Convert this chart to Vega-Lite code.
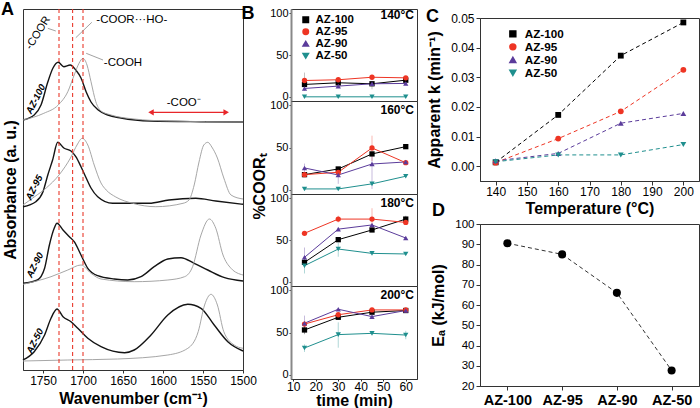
{
  "$schema": "https://vega.github.io/schema/vega-lite/v6.json",
  "background": "white",
  "padding": {"left": 0, "top": 0, "right": 0, "bottom": 0},
  "config": {
    "font": "Liberation Sans",
    "view": {"stroke": "#333333", "strokeWidth": 1},
    "axis": {"grid": false, "labelColor": "#000", "titleColor": "#000", "domainColor": "#333", "tickColor": "#333", "labelFontSize": 12, "titleFontSize": 16, "titleFontWeight": "bold", "labelFlush": false},
    "legend": {"labelFontWeight": "bold", "labelColor": "#000"},
    "title": {"fontWeight": "bold", "color": "#000"}
  },
  "datasets": {
    "spectra": [
      {"s":"AZ-100","trace":"sample","wn":1775,"a":250},{"s":"AZ-100","trace":"sample","wn":1761,"a":255},{"s":"AZ-100","trace":"sample","wn":1752.5,"a":265},{"s":"AZ-100","trace":"sample","wn":1744,"a":288},{"s":"AZ-100","trace":"sample","wn":1737.5,"a":302},{"s":"AZ-100","trace":"sample","wn":1731,"a":307.7},{"s":"AZ-100","trace":"sample","wn":1724,"a":303.3},{"s":"AZ-100","trace":"sample","wn":1716,"a":305},{"s":"AZ-100","trace":"sample","wn":1709,"a":300},{"s":"AZ-100","trace":"sample","wn":1702.5,"a":292},{"s":"AZ-100","trace":"sample","wn":1696,"a":278},{"s":"AZ-100","trace":"sample","wn":1690,"a":268},{"s":"AZ-100","trace":"sample","wn":1681,"a":260},{"s":"AZ-100","trace":"sample","wn":1669,"a":255},{"s":"AZ-100","trace":"sample","wn":1652.5,"a":252},{"s":"AZ-100","trace":"sample","wn":1615,"a":249},{"s":"AZ-100","trace":"sample","wn":1552.5,"a":248.3},{"s":"AZ-100","trace":"sample","wn":1500,"a":248},
      {"s":"AZ-100","trace":"reference","wn":1775,"a":250},{"s":"AZ-100","trace":"reference","wn":1749,"a":256.7},{"s":"AZ-100","trace":"reference","wn":1731,"a":265},{"s":"AZ-100","trace":"reference","wn":1719,"a":278.3},{"s":"AZ-100","trace":"reference","wn":1711,"a":295},{"s":"AZ-100","trace":"reference","wn":1705,"a":306.7},{"s":"AZ-100","trace":"reference","wn":1700,"a":311.7},{"s":"AZ-100","trace":"reference","wn":1695,"a":305},{"s":"AZ-100","trace":"reference","wn":1690,"a":288.3},{"s":"AZ-100","trace":"reference","wn":1684,"a":268.3},{"s":"AZ-100","trace":"reference","wn":1677.5,"a":259},{"s":"AZ-100","trace":"reference","wn":1665,"a":255},{"s":"AZ-100","trace":"reference","wn":1636,"a":251},{"s":"AZ-100","trace":"reference","wn":1594,"a":249},{"s":"AZ-100","trace":"reference","wn":1500,"a":248},
      {"s":"AZ-95","trace":"sample","wn":1775,"a":163.3},{"s":"AZ-95","trace":"sample","wn":1759,"a":168.3},{"s":"AZ-95","trace":"sample","wn":1750,"a":178.3},{"s":"AZ-95","trace":"sample","wn":1744,"a":195},{"s":"AZ-95","trace":"sample","wn":1738,"a":210},{"s":"AZ-95","trace":"sample","wn":1731.6,"a":227.7},{"s":"AZ-95","trace":"sample","wn":1724,"a":222},{"s":"AZ-95","trace":"sample","wn":1715,"a":219},{"s":"AZ-95","trace":"sample","wn":1709,"a":213.3},{"s":"AZ-95","trace":"sample","wn":1702.5,"a":203.3},{"s":"AZ-95","trace":"sample","wn":1696,"a":192},{"s":"AZ-95","trace":"sample","wn":1690,"a":182},{"s":"AZ-95","trace":"sample","wn":1681.6,"a":173.3},{"s":"AZ-95","trace":"sample","wn":1663,"a":166.7},{"s":"AZ-95","trace":"sample","wn":1617.5,"a":166.7},{"s":"AZ-95","trace":"sample","wn":1592.5,"a":170},{"s":"AZ-95","trace":"sample","wn":1559,"a":171.7},{"s":"AZ-95","trace":"sample","wn":1534,"a":169},{"s":"AZ-95","trace":"sample","wn":1500,"a":165.7},
      {"s":"AZ-95","trace":"reference","wn":1775,"a":165},{"s":"AZ-95","trace":"reference","wn":1761,"a":173},{"s":"AZ-95","trace":"reference","wn":1746,"a":182},{"s":"AZ-95","trace":"reference","wn":1730,"a":195},{"s":"AZ-95","trace":"reference","wn":1715,"a":213},{"s":"AZ-95","trace":"reference","wn":1707.5,"a":225},{"s":"AZ-95","trace":"reference","wn":1701,"a":231.7},{"s":"AZ-95","trace":"reference","wn":1694,"a":225},{"s":"AZ-95","trace":"reference","wn":1686,"a":205},{"s":"AZ-95","trace":"reference","wn":1677.5,"a":187},{"s":"AZ-95","trace":"reference","wn":1671,"a":180},{"s":"AZ-95","trace":"reference","wn":1659,"a":173},{"s":"AZ-95","trace":"reference","wn":1638,"a":166.7},{"s":"AZ-95","trace":"reference","wn":1609,"a":163.3},{"s":"AZ-95","trace":"reference","wn":1575,"a":166.7},{"s":"AZ-95","trace":"reference","wn":1567.5,"a":170},{"s":"AZ-95","trace":"reference","wn":1561,"a":185},{"s":"AZ-95","trace":"reference","wn":1555,"a":208},{"s":"AZ-95","trace":"reference","wn":1549,"a":225},{"s":"AZ-95","trace":"reference","wn":1544,"a":227.7},{"s":"AZ-95","trace":"reference","wn":1539,"a":223},{"s":"AZ-95","trace":"reference","wn":1532,"a":212},{"s":"AZ-95","trace":"reference","wn":1524,"a":192},{"s":"AZ-95","trace":"reference","wn":1515,"a":175},{"s":"AZ-95","trace":"reference","wn":1500,"a":171},
      {"s":"AZ-90","trace":"sample","wn":1775,"a":86.7},{"s":"AZ-90","trace":"sample","wn":1757,"a":90},{"s":"AZ-90","trace":"sample","wn":1748,"a":101.7},{"s":"AZ-90","trace":"sample","wn":1742,"a":125},{"s":"AZ-90","trace":"sample","wn":1736,"a":141.7},{"s":"AZ-90","trace":"sample","wn":1732.5,"a":146.7},{"s":"AZ-90","trace":"sample","wn":1725,"a":140},{"s":"AZ-90","trace":"sample","wn":1717,"a":133.3},{"s":"AZ-90","trace":"sample","wn":1711,"a":128.3},{"s":"AZ-90","trace":"sample","wn":1702.5,"a":115},{"s":"AZ-90","trace":"sample","wn":1694,"a":101.7},{"s":"AZ-90","trace":"sample","wn":1681.6,"a":94.3},{"s":"AZ-90","trace":"sample","wn":1661,"a":91},{"s":"AZ-90","trace":"sample","wn":1644,"a":90},{"s":"AZ-90","trace":"sample","wn":1627.5,"a":93.3},{"s":"AZ-90","trace":"sample","wn":1611,"a":103.3},{"s":"AZ-90","trace":"sample","wn":1594,"a":111},{"s":"AZ-90","trace":"sample","wn":1577.5,"a":112.3},{"s":"AZ-90","trace":"sample","wn":1561,"a":106.7},{"s":"AZ-90","trace":"sample","wn":1544,"a":100},{"s":"AZ-90","trace":"sample","wn":1523,"a":92.3},{"s":"AZ-90","trace":"sample","wn":1500,"a":89},
      {"s":"AZ-90","trace":"reference","wn":1775,"a":85.7},{"s":"AZ-90","trace":"reference","wn":1740,"a":93.3},{"s":"AZ-90","trace":"reference","wn":1719,"a":100},{"s":"AZ-90","trace":"reference","wn":1702.5,"a":105},{"s":"AZ-90","trace":"reference","wn":1690,"a":96.7},{"s":"AZ-90","trace":"reference","wn":1677.5,"a":91},{"s":"AZ-90","trace":"reference","wn":1636,"a":88.3},{"s":"AZ-90","trace":"reference","wn":1594,"a":90},{"s":"AZ-90","trace":"reference","wn":1573,"a":93.3},{"s":"AZ-90","trace":"reference","wn":1563,"a":103.3},{"s":"AZ-90","trace":"reference","wn":1552.5,"a":135},{"s":"AZ-90","trace":"reference","wn":1542,"a":151},{"s":"AZ-90","trace":"reference","wn":1534,"a":141.7},{"s":"AZ-90","trace":"reference","wn":1525,"a":115},{"s":"AZ-90","trace":"reference","wn":1515,"a":101.7},{"s":"AZ-90","trace":"reference","wn":1500,"a":95},
      {"s":"AZ-50","trace":"sample","wn":1775,"a":10},{"s":"AZ-50","trace":"sample","wn":1761,"a":18.3},{"s":"AZ-50","trace":"sample","wn":1748,"a":35},{"s":"AZ-50","trace":"sample","wn":1740,"a":51.7},{"s":"AZ-50","trace":"sample","wn":1732.5,"a":61},{"s":"AZ-50","trace":"sample","wn":1725,"a":53.3},{"s":"AZ-50","trace":"sample","wn":1715,"a":48.3},{"s":"AZ-50","trace":"sample","wn":1706.5,"a":41.7},{"s":"AZ-50","trace":"sample","wn":1694,"a":31.7},{"s":"AZ-50","trace":"sample","wn":1677.5,"a":23.3},{"s":"AZ-50","trace":"sample","wn":1648,"a":17.3},{"s":"AZ-50","trace":"sample","wn":1636,"a":20},{"s":"AZ-50","trace":"sample","wn":1615,"a":35},{"s":"AZ-50","trace":"sample","wn":1594,"a":55},{"s":"AZ-50","trace":"sample","wn":1569,"a":65.7},{"s":"AZ-50","trace":"sample","wn":1552.5,"a":61.7},{"s":"AZ-50","trace":"sample","wn":1536,"a":45},{"s":"AZ-50","trace":"sample","wn":1519,"a":28.3},{"s":"AZ-50","trace":"sample","wn":1500,"a":19},
      {"s":"AZ-50","trace":"reference","wn":1775,"a":9},{"s":"AZ-50","trace":"reference","wn":1719,"a":10},{"s":"AZ-50","trace":"reference","wn":1657,"a":11},{"s":"AZ-50","trace":"reference","wn":1594,"a":15},{"s":"AZ-50","trace":"reference","wn":1569,"a":21.7},{"s":"AZ-50","trace":"reference","wn":1556,"a":38.3},{"s":"AZ-50","trace":"reference","wn":1548,"a":65},{"s":"AZ-50","trace":"reference","wn":1540,"a":75.7},{"s":"AZ-50","trace":"reference","wn":1532,"a":65},{"s":"AZ-50","trace":"reference","wn":1524,"a":38.3},{"s":"AZ-50","trace":"reference","wn":1511,"a":25},{"s":"AZ-50","trace":"reference","wn":1500,"a":21.7}
    ],
    "bands": [{"wn": 1730}, {"wn": 1713}, {"wn": 1700}],
    "leaders": [
      {"wn": 1744, "a": 341.7, "wn2": 1734, "a2": 339},
      {"wn": 1709, "a": 332.3, "wn2": 1689, "a2": 347.7},
      {"wn": 1696, "a": 316.7, "wn2": 1675, "a2": 310}
    ],
    "arrow": [{"wn": 1615, "wn2": 1521, "a": 257.7}],
    "arrowHeads": [{"wn": 1615, "a": 257.7, "end": "left"}, {"wn": 1521, "a": 257.7, "end": "right"}],
    "notes": [
      {"label": "-COOR···HO-", "wn": 1639, "a": 350},
      {"label": "-COOH", "wn": 1650, "a": 307},
      {"label": "-COO⁻", "wn": 1574, "a": 267}
    ],
    "rotNotes": [{"label": "-COOR", "wn": 1756, "a": 337}],
    "sampleLabels": [
      {"label": "AZ-100", "wn": 1759, "a": 271},
      {"label": "AZ-95", "wn": 1761, "a": 182.5},
      {"label": "AZ-90", "wn": 1760, "a": 105},
      {"label": "AZ-50", "wn": 1760, "a": 29}
    ],
    "kin": [
      {"T":"140°C","s":"AZ-100","t":15,"v":14.8,"lo":7,"hi":29},{"T":"140°C","s":"AZ-100","t":30,"v":16.8},{"T":"140°C","s":"AZ-100","t":45,"v":15.6},{"T":"140°C","s":"AZ-100","t":60,"v":19.9},
      {"T":"140°C","s":"AZ-95","t":15,"v":19.5},{"T":"140°C","s":"AZ-95","t":30,"v":20.4},{"T":"140°C","s":"AZ-95","t":45,"v":23.4},{"T":"140°C","s":"AZ-95","t":60,"v":22.7},
      {"T":"140°C","s":"AZ-90","t":15,"v":10},{"T":"140°C","s":"AZ-90","t":30,"v":12.8},{"T":"140°C","s":"AZ-90","t":45,"v":15.6,"lo":9,"hi":19},{"T":"140°C","s":"AZ-90","t":60,"v":16},
      {"T":"140°C","s":"AZ-50","t":15,"v":0},{"T":"140°C","s":"AZ-50","t":30,"v":0},{"T":"140°C","s":"AZ-50","t":45,"v":0},{"T":"140°C","s":"AZ-50","t":60,"v":0},
      {"T":"160°C","s":"AZ-100","t":15,"v":17.9},{"T":"160°C","s":"AZ-100","t":30,"v":24.6},{"T":"160°C","s":"AZ-100","t":45,"v":42.4},{"T":"160°C","s":"AZ-100","t":60,"v":51},
      {"T":"160°C","s":"AZ-95","t":15,"v":17.9},{"T":"160°C","s":"AZ-95","t":30,"v":20.7},{"T":"160°C","s":"AZ-95","t":45,"v":49.5,"lo":34,"hi":64},{"T":"160°C","s":"AZ-95","t":60,"v":32},
      {"T":"160°C","s":"AZ-90","t":15,"v":25.8,"lo":19.5,"hi":31},{"T":"160°C","s":"AZ-90","t":30,"v":17.5,"lo":7,"hi":22.6},{"T":"160°C","s":"AZ-90","t":45,"v":30.5,"lo":1,"hi":44},{"T":"160°C","s":"AZ-90","t":60,"v":32.9},
      {"T":"160°C","s":"AZ-50","t":15,"v":1},{"T":"160°C","s":"AZ-50","t":30,"v":1},{"T":"160°C","s":"AZ-50","t":45,"v":7},{"T":"160°C","s":"AZ-50","t":60,"v":16},
      {"T":"180°C","s":"AZ-100","t":15,"v":23.3},{"T":"180°C","s":"AZ-100","t":30,"v":50.4},{"T":"180°C","s":"AZ-100","t":45,"v":62},{"T":"180°C","s":"AZ-100","t":60,"v":75,"lo":69,"hi":79},
      {"T":"180°C","s":"AZ-95","t":15,"v":58},{"T":"180°C","s":"AZ-95","t":30,"v":75,"lo":71,"hi":79},{"T":"180°C","s":"AZ-95","t":45,"v":75,"lo":62,"hi":88},{"T":"180°C","s":"AZ-95","t":60,"v":71},
      {"T":"180°C","s":"AZ-90","t":15,"v":29.3,"lo":17,"hi":41},{"T":"180°C","s":"AZ-90","t":30,"v":63},{"T":"180°C","s":"AZ-90","t":45,"v":68},{"T":"180°C","s":"AZ-90","t":60,"v":52.4},
      {"T":"180°C","s":"AZ-50","t":15,"v":19.3,"lo":10,"hi":27},{"T":"180°C","s":"AZ-50","t":30,"v":39.2,"lo":30,"hi":47},{"T":"180°C","s":"AZ-50","t":45,"v":34},{"T":"180°C","s":"AZ-50","t":60,"v":33.3},
      {"T":"200°C","s":"AZ-100","t":15,"v":53,"lo":48,"hi":58},{"T":"200°C","s":"AZ-100","t":30,"v":68},{"T":"200°C","s":"AZ-100","t":45,"v":74},{"T":"200°C","s":"AZ-100","t":60,"v":76},
      {"T":"200°C","s":"AZ-95","t":15,"v":60},{"T":"200°C","s":"AZ-95","t":30,"v":71},{"T":"200°C","s":"AZ-95","t":45,"v":76.7},{"T":"200°C","s":"AZ-95","t":60,"v":76.7},
      {"T":"200°C","s":"AZ-90","t":15,"v":61,"lo":52,"hi":70},{"T":"200°C","s":"AZ-90","t":30,"v":77.5},{"T":"200°C","s":"AZ-90","t":45,"v":68.8},{"T":"200°C","s":"AZ-90","t":60,"v":76},
      {"T":"200°C","s":"AZ-50","t":15,"v":31.7,"lo":27,"hi":36},{"T":"200°C","s":"AZ-50","t":30,"v":47.5,"lo":32,"hi":62},{"T":"200°C","s":"AZ-50","t":45,"v":49},{"T":"200°C","s":"AZ-50","t":60,"v":47,"lo":42,"hi":52}
    ],
    "rate": [
      {"s":"AZ-100","T":140,"k":0.0013},{"s":"AZ-100","T":160,"k":0.0173},{"s":"AZ-100","T":180,"k":0.0373},{"s":"AZ-100","T":200,"k":0.0485},
      {"s":"AZ-95","T":140,"k":0.0012},{"s":"AZ-95","T":160,"k":0.0093},{"s":"AZ-95","T":180,"k":0.0185},{"s":"AZ-95","T":200,"k":0.0325},
      {"s":"AZ-90","T":140,"k":0.0018},{"s":"AZ-90","T":160,"k":0.0043},{"s":"AZ-90","T":180,"k":0.0145},{"s":"AZ-90","T":200,"k":0.0178},
      {"s":"AZ-50","T":140,"k":0.0015},{"s":"AZ-50","T":160,"k":0.0038},{"s":"AZ-50","T":180,"k":0.0038},{"s":"AZ-50","T":200,"k":0.0073}
    ],
    "ea": [{"s":"AZ-100","E":90.5},{"s":"AZ-95","E":85},{"s":"AZ-90","E":66},{"s":"AZ-50","E":27.7}]
  },
  "spacing": 48,
  "bounds": "flush",
  "resolve": {"scale": {"color": "independent", "shape": "independent"}, "legend": {"color": "independent", "shape": "independent"}},
  "hconcat": [
    {
      "width": 220, "height": 361,
      "title": {"text": "A", "anchor": "start", "frame": "group", "orient": "top", "fontSize": 18, "baseline": "alphabetic", "offset": -25, "dx": -22},
      "encoding": {
        "x": {"field": "wn", "type": "quantitative", "scale": {"domain": [1775, 1500], "nice": false, "zero": false},
              "axis": {"title": "Wavenumber (cm⁻¹)", "format": "d", "values": [1750, 1700, 1650, 1600, 1550, 1500], "tickSize": 3, "labelPadding": 2, "titlePadding": 4}}
      },
      "layer": [
        {
          "data": {"name": "spectra"},
          "mark": {"type": "line", "interpolate": "monotone"},
          "encoding": {
            "y": {"field": "a", "type": "quantitative", "scale": {"domain": [0, 361], "nice": false, "zero": false},
                  "axis": {"title": "Absorbance (a. u.)", "labels": false, "ticks": false, "domain": false, "titlePadding": 5}},
            "detail": {"field": "s"},
            "color": {"field": "trace", "type": "nominal", "scale": {"domain": ["sample", "reference"], "range": ["#141414", "#9c9c9c"]}, "legend": null},
            "strokeWidth": {"field": "trace", "type": "nominal", "scale": {"domain": ["sample", "reference"], "range": [1.4, 0.9]}, "legend": null}
          }
        },
        {
          "data": {"name": "bands"},
          "mark": {"type": "rule", "color": "#ea3a2d", "strokeDash": [4, 3], "strokeWidth": 1.1},
          "encoding": {}
        },
        {
          "data": {"name": "leaders"},
          "mark": {"type": "rule", "color": "#8a8a8a", "strokeWidth": 0.8},
          "encoding": {
            "x2": {"field": "wn2"},
            "y": {"field": "a", "type": "quantitative", "scale": {"domain": [0, 361], "nice": false, "zero": false}},
            "y2": {"field": "a2"}
          }
        },
        {
          "data": {"name": "arrow"},
          "mark": {"type": "rule", "color": "#e8262a", "strokeWidth": 1.3},
          "encoding": {
            "x2": {"field": "wn2"},
            "y": {"field": "a", "type": "quantitative", "scale": {"domain": [0, 361], "nice": false, "zero": false}}
          }
        },
        {
          "data": {"name": "arrowHeads"},
          "mark": {"type": "point", "filled": true, "color": "#e8262a", "size": 40, "opacity": 1},
          "encoding": {
            "y": {"field": "a", "type": "quantitative", "scale": {"domain": [0, 361], "nice": false, "zero": false}},
            "shape": {"field": "end", "type": "nominal", "scale": {"domain": ["left", "right"], "range": ["triangle-left", "triangle-right"]}, "legend": null}
          }
        },
        {
          "data": {"name": "notes"},
          "mark": {"type": "text", "fontSize": 11.5, "color": "#000", "align": "center", "baseline": "middle"},
          "encoding": {
            "y": {"field": "a", "type": "quantitative", "scale": {"domain": [0, 361], "nice": false, "zero": false}},
            "text": {"field": "label"}
          }
        },
        {
          "data": {"name": "rotNotes"},
          "mark": {"type": "text", "fontSize": 11, "color": "#000", "align": "center", "baseline": "middle", "angle": 302},
          "encoding": {
            "y": {"field": "a", "type": "quantitative", "scale": {"domain": [0, 361], "nice": false, "zero": false}},
            "text": {"field": "label"}
          }
        },
        {
          "data": {"name": "sampleLabels"},
          "mark": {"type": "text", "fontSize": 9.5, "fontWeight": "bold", "fontStyle": "italic", "color": "#000", "align": "center", "baseline": "middle", "angle": 297},
          "encoding": {
            "y": {"field": "a", "type": "quantitative", "scale": {"domain": [0, 361], "nice": false, "zero": false}},
            "text": {"field": "label"}
          }
        }
      ]
    },
    {
      "spacing": 189,
      "bounds": "flush",
      "resolve": {"scale": {"color": "independent", "shape": "independent"}, "legend": {"color": "independent", "shape": "independent"}},
      "hconcat": [
        {
          "spacing": 0,
          "bounds": "flush",
          "resolve": {"scale": {"color": "independent", "shape": "independent"}, "legend": {"color": "independent", "shape": "independent"}},
          "vconcat": [
            {
              "width": 126, "height": 92,
              "title": {"text": "140°C", "anchor": "end", "frame": "group", "orient": "top", "offset": -27, "baseline": "alphabetic", "fontSize": 12, "dx": -3},
              "data": {"name": "kin"},
              "transform": [{"filter": "datum.T == '140°C'"}],
              "encoding": {
                "x": {"field": "t", "type": "quantitative", "scale": {"domain": [9, 65], "nice": false, "zero": false}, "axis": null},
                "y": {"field": "v", "type": "quantitative", "scale": {"domain": [-5, 105], "nice": false, "zero": false},
                      "axis": {"values": [0, 50, 100], "title": "B", "titleAngle": 0, "titleAlign": "left", "titleBaseline": "alphabetic", "titleX": -50, "titleY": 9, "titleFontSize": 18, "labelFontSize": 11, "tickSize": 2, "labelPadding": 1, "domainColor": "#888", "domainWidth": 2}}
              },
              "layer": [
                {"transform": [{"filter": "isValid(datum.lo)"}], "mark": {"type": "rule", "opacity": 0.5, "strokeWidth": 1, "color": "#8a8a8a"},
                 "encoding": {"y": {"field": "lo", "type": "quantitative", "scale": {"domain": [-5, 105], "nice": false, "zero": false}}, "y2": {"field": "hi"}}},
                {"mark": {"type": "line", "strokeWidth": 1},
                 "encoding": {"color": {"field": "s", "type": "nominal", "scale": {"domain": ["AZ-100", "AZ-95", "AZ-90", "AZ-50"], "range": ["#000000", "#ee3524", "#5b3c9b", "#1f8f8e"]},
                                        "legend": {"orient": "none", "legendX": 9, "legendY": 5, "title": null, "labelFontSize": 11.5, "labelFontWeight": "bold", "symbolSize": 30, "rowPadding": -3, "labelOffset": 4}}}},
                {"mark": {"type": "point", "filled": true, "size": 28, "opacity": 1},
                 "encoding": {
                   "color": {"field": "s", "type": "nominal", "scale": {"domain": ["AZ-100", "AZ-95", "AZ-90", "AZ-50"], "range": ["#000000", "#ee3524", "#5b3c9b", "#1f8f8e"]},
                             "legend": {"orient": "none", "legendX": 9, "legendY": 5, "title": null, "labelFontSize": 11.5, "labelFontWeight": "bold", "symbolSize": 30, "rowPadding": -3, "labelOffset": 4}},
                   "shape": {"field": "s", "type": "nominal", "scale": {"domain": ["AZ-100", "AZ-95", "AZ-90", "AZ-50"], "range": ["square", "circle", "triangle-up", "triangle-down"]},
                             "legend": {"orient": "none", "legendX": 9, "legendY": 5, "title": null, "labelFontSize": 11.5, "labelFontWeight": "bold", "symbolSize": 30, "rowPadding": -3, "labelOffset": 4}}}}
              ]
            },
            {
              "width": 126, "height": 93,
              "title": {"text": "160°C", "anchor": "end", "frame": "group", "orient": "top", "offset": -27, "baseline": "alphabetic", "fontSize": 12, "dx": -3},
              "data": {"name": "kin"},
              "transform": [{"filter": "datum.T == '160°C'"}],
              "encoding": {
                "x": {"field": "t", "type": "quantitative", "scale": {"domain": [9, 65], "nice": false, "zero": false}, "axis": null},
                "y": {"field": "v", "type": "quantitative", "scale": {"domain": [-5, 105], "nice": false, "zero": false}, "axis": {"values": [0, 50, 100], "title": "%COORₜ", "titleY": 85, "titlePadding": 2, "labelFontSize": 11, "tickSize": 2, "labelPadding": 1, "domainColor": "#888", "domainWidth": 2}},
                "color": {"field": "s", "type": "nominal", "scale": {"domain": ["AZ-100", "AZ-95", "AZ-90", "AZ-50"], "range": ["#000000", "#ee3524", "#5b3c9b", "#1f8f8e"]}, "legend": null}
              },
              "layer": [
                {"transform": [{"filter": "isValid(datum.lo)"}], "mark": {"type": "rule", "opacity": 0.35, "strokeWidth": 1},
                 "encoding": {"y": {"field": "lo", "type": "quantitative", "scale": {"domain": [-5, 105], "nice": false, "zero": false}}, "y2": {"field": "hi"}}},
                {"mark": {"type": "line", "strokeWidth": 1}},
                {"mark": {"type": "point", "filled": true, "size": 28, "opacity": 1},
                 "encoding": {"shape": {"field": "s", "type": "nominal", "scale": {"domain": ["AZ-100", "AZ-95", "AZ-90", "AZ-50"], "range": ["square", "circle", "triangle-up", "triangle-down"]}, "legend": null}}}
              ]
            },
            {
              "width": 126, "height": 92,
              "title": {"text": "180°C", "anchor": "end", "frame": "group", "orient": "top", "offset": -27, "baseline": "alphabetic", "fontSize": 12, "dx": -3},
              "data": {"name": "kin"},
              "transform": [{"filter": "datum.T == '180°C'"}],
              "encoding": {
                "x": {"field": "t", "type": "quantitative", "scale": {"domain": [9, 65], "nice": false, "zero": false}, "axis": null},
                "y": {"field": "v", "type": "quantitative", "scale": {"domain": [-5, 105], "nice": false, "zero": false}, "axis": {"values": [0, 50, 100], "title": null, "labelFontSize": 11, "tickSize": 2, "labelPadding": 1, "domainColor": "#888", "domainWidth": 2}},
                "color": {"field": "s", "type": "nominal", "scale": {"domain": ["AZ-100", "AZ-95", "AZ-90", "AZ-50"], "range": ["#000000", "#ee3524", "#5b3c9b", "#1f8f8e"]}, "legend": null}
              },
              "layer": [
                {"transform": [{"filter": "isValid(datum.lo)"}], "mark": {"type": "rule", "opacity": 0.35, "strokeWidth": 1},
                 "encoding": {"y": {"field": "lo", "type": "quantitative", "scale": {"domain": [-5, 105], "nice": false, "zero": false}}, "y2": {"field": "hi"}}},
                {"mark": {"type": "line", "strokeWidth": 1}},
                {"mark": {"type": "point", "filled": true, "size": 28, "opacity": 1},
                 "encoding": {"shape": {"field": "s", "type": "nominal", "scale": {"domain": ["AZ-100", "AZ-95", "AZ-90", "AZ-50"], "range": ["square", "circle", "triangle-up", "triangle-down"]}, "legend": null}}}
              ]
            },
            {
              "width": 126, "height": 93,
              "title": {"text": "200°C", "anchor": "end", "frame": "group", "orient": "top", "offset": -27, "baseline": "alphabetic", "fontSize": 12, "dx": -3},
              "data": {"name": "kin"},
              "transform": [{"filter": "datum.T == '200°C'"}],
              "encoding": {
                "x": {"field": "t", "type": "quantitative", "scale": {"domain": [9, 65], "nice": false, "zero": false},
                      "axis": {"values": [10, 20, 30, 40, 50, 60], "title": "time (min)", "tickSize": 2, "labelPadding": 0, "titlePadding": 0}},
                "y": {"field": "v", "type": "quantitative", "scale": {"domain": [-5, 105], "nice": false, "zero": false}, "axis": {"values": [0, 50, 100], "title": null, "labelFontSize": 11, "tickSize": 2, "labelPadding": 1, "domainColor": "#888", "domainWidth": 2}},
                "color": {"field": "s", "type": "nominal", "scale": {"domain": ["AZ-100", "AZ-95", "AZ-90", "AZ-50"], "range": ["#000000", "#ee3524", "#5b3c9b", "#1f8f8e"]}, "legend": null}
              },
              "layer": [
                {"transform": [{"filter": "isValid(datum.lo)"}], "mark": {"type": "rule", "opacity": 0.35, "strokeWidth": 1},
                 "encoding": {"y": {"field": "lo", "type": "quantitative", "scale": {"domain": [-5, 105], "nice": false, "zero": false}}, "y2": {"field": "hi"}}},
                {"mark": {"type": "line", "strokeWidth": 1}},
                {"mark": {"type": "point", "filled": true, "size": 28, "opacity": 1},
                 "encoding": {"shape": {"field": "s", "type": "nominal", "scale": {"domain": ["AZ-100", "AZ-95", "AZ-90", "AZ-50"], "range": ["square", "circle", "triangle-up", "triangle-down"]}, "legend": null}}}
              ]
            }
          ]
        },
        {
          "spacing": 0,
          "bounds": "flush",
          "resolve": {"scale": {"color": "independent", "shape": "independent"}, "legend": {"color": "independent", "shape": "independent"}},
          "vconcat": [
            {
              "width": 219, "height": 9,
              "view": {"stroke": null},
              "data": {"values": [{"z": 0}]},
              "mark": {"type": "text", "text": ""},
              "encoding": {}
            },
            {
              "spacing": 43,
              "bounds": "flush",
              "resolve": {"scale": {"color": "independent", "shape": "independent"}, "legend": {"color": "independent", "shape": "independent"}},
              "vconcat": [
                {
                  "width": 219, "height": 163,
                  "title": {"text": "C", "anchor": "start", "frame": "group", "orient": "top", "fontSize": 18, "baseline": "alphabetic", "offset": -28, "dx": -54},
                  "data": {"name": "rate"},
                  "encoding": {
                    "x": {"field": "T", "type": "quantitative", "scale": {"domain": [135, 205], "nice": false, "zero": false},
                          "axis": {"values": [140, 150, 160, 170, 180, 190, 200], "title": "Temperature (°C)", "tickSize": 4, "labelPadding": 1, "titlePadding": 3}},
                    "y": {"field": "k", "type": "quantitative", "scale": {"domain": [-0.005, 0.05], "nice": false, "zero": false},
                          "axis": {"values": [0, 0.01, 0.02, 0.03, 0.04, 0.05], "format": ".2f", "title": "Apparent k (min⁻¹)", "tickSize": 4, "labelPadding": 2, "titlePadding": 8}},
                    "color": {"field": "s", "type": "nominal", "scale": {"domain": ["AZ-100", "AZ-95", "AZ-90", "AZ-50"], "range": ["#000000", "#ee3524", "#5b3c9b", "#1f8f8e"]},
                              "legend": {"orient": "none", "legendX": 27, "legendY": 10, "title": null, "labelFontSize": 11.7, "labelFontWeight": "bold", "symbolSize": 35, "rowPadding": -2, "labelOffset": 6}}
                  },
                  "layer": [
                    {"mark": {"type": "line", "strokeWidth": 1, "strokeDash": [4, 3]}},
                    {"mark": {"type": "point", "filled": true, "size": 34, "opacity": 1},
                     "encoding": {"shape": {"field": "s", "type": "nominal", "scale": {"domain": ["AZ-100", "AZ-95", "AZ-90", "AZ-50"], "range": ["square", "circle", "triangle-up", "triangle-down"]},
                                            "legend": {"orient": "none", "legendX": 27, "legendY": 10, "title": null, "labelFontSize": 11.7, "labelFontWeight": "bold", "symbolSize": 35, "rowPadding": -2, "labelOffset": 6}}}}
                  ]
                },
                {
                  "width": 219, "height": 162,
                  "title": {"text": "D", "anchor": "start", "frame": "group", "orient": "top", "fontSize": 18, "baseline": "alphabetic", "offset": -16, "dx": -48},
                  "data": {"name": "ea"},
                  "encoding": {
                    "x": {"field": "s", "type": "nominal", "sort": null, "scale": {"type": "point", "padding": 0.5},
                          "axis": {"title": null, "labelAngle": 0, "labelFontSize": 14.5, "labelFontWeight": "bold", "tickSize": 4, "labelPadding": 3}},
                    "y": {"field": "E", "type": "quantitative", "scale": {"domain": [20, 100], "nice": false, "zero": false},
                          "axis": {"values": [20, 30, 40, 50, 60, 70, 80, 90, 100], "title": "Eₐ (kJ/mol)", "labelFontSize": 11.5, "tickSize": 4, "labelPadding": 2, "titlePadding": 8}}
                  },
                  "layer": [
                    {"mark": {"type": "line", "color": "#333", "strokeWidth": 1, "strokeDash": [4, 3]}},
                    {"mark": {"type": "point", "filled": true, "color": "#000", "size": 65, "opacity": 1}}
                  ]
                }
              ]
            }
          ]
        }
      ]
    }
  ]
}
